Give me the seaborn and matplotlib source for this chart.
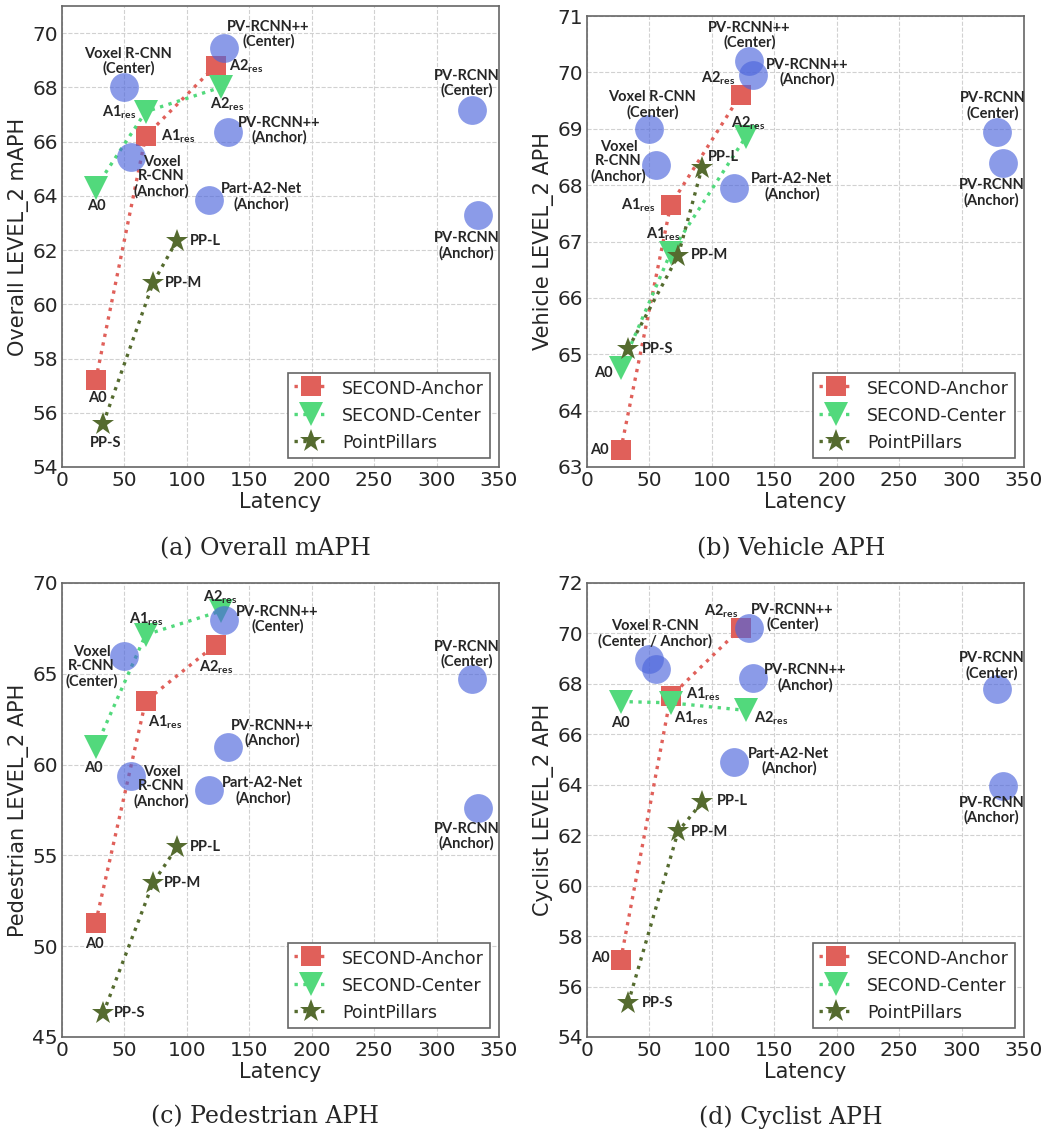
import matplotlib
matplotlib.use("Agg")
import matplotlib.pyplot as plt
import seaborn as sns

# latency of every method
second_anchor_lat = [27, 67, 123]
second_center_lat = [27, 67, 127]
pillars_lat = [33, 73, 92]
other_lat = [50, 55, 130, 133, 118, 328, 333]

# (a) overall LEVEL_2 mAPH
overall_anchor = [57.2, 66.2, 68.8]
overall_center = [64.3, 67.1, 68.0]
overall_pillars = [55.6, 60.8, 62.35]
overall_other = [68.0, 65.45, 69.45, 66.35, 63.85, 67.15, 63.3]

# (b) vehicle LEVEL_2 APH
vehicle_anchor = [63.3, 67.65, 69.6]
vehicle_center = [64.75, 66.8, 68.85]
vehicle_pillars = [65.1, 66.75, 68.3]
vehicle_other = [69.0, 68.35, 70.2, 69.95, 67.95, 68.95, 68.4]

# (c) pedestrian LEVEL_2 APH
ped_anchor = [51.3, 63.5, 66.6]
ped_center = [60.95, 67.15, 68.45]
ped_pillars = [46.3, 53.5, 55.45]
ped_other = [66.0, 59.35, 67.95, 60.95, 58.6, 64.7, 57.6]

# (d) cyclist LEVEL_2 APH
cyc_anchor = [57.05, 67.5, 70.2]
cyc_center = [67.3, 67.25, 66.95]
cyc_pillars = [55.35, 62.15, 63.3]
cyc_other = [69.0, 68.6, 70.2, 68.25, 64.9, 67.8, 63.95]

second_labels = ["A0", r"A1$_{\mathregular{res}}$", r"A2$_{\mathregular{res}}$"]
pillars_labels = ["PP-S", "PP-M", "PP-L"]

ylabels = ["Overall LEVEL_2 mAPH", "Vehicle LEVEL_2 APH",
           "Pedestrian LEVEL_2 APH", "Cyclist LEVEL_2 APH"]
captions = ["(a) Overall mAPH", "(b) Vehicle APH",
            "(c) Pedestrian APH", "(d) Cyclist APH"]
yticks = [range(54, 71, 2), range(63, 72, 1), range(45, 71, 5), range(54, 73, 2)]
ylims = [(54, 71), (63, 71), (45, 70), (54, 72)]

# label placement per panel: (dx, dy, ha) in pixels
anchor_pos = [
    [(2, -18, "center"), (15, 0, "left"), (13, 0, "left")],
    [(-12, 0, "right"), (-15, 0, "right"), (-5, 17, "right")],
    [(-1, -21, "center"), (19, -21, "center"), (1, -22, "center")],
    [(-11, 2, "right"), (15, 2, "left"), (-2, 17, "right")],
]
center_pos = [
    [(1, -18, "center"), (-9, 0, "right"), (7, -17, "center")],
    [(-8, -5, "right"), (-8, 19, "center"), (3, 14, "center")],
    [(-2, -21, "center"), (0, 16, "center"), (0, 14, "center")],
    [(0, -21, "center"), (3, -15, "left"), (8, -8, "left")],
]
pillars_pos = [
    [(2, -19, "center"), (12, 0, "left"), (13, 0, "left")],
    [(14, 0, "left"), (13, 1, "left"), (6, 11, "left")],
    [(11, 0, "left"), (11, 0, "left"), (13, 0, "left")],
    [(14, 0, "left"), (13, -1, "left"), (15, 1, "left")],
]
other_text = [
    ["Voxel R-CNN\n(Center)", "Voxel\nR-CNN\n(Anchor)", "PV-RCNN++\n(Center)",
     "PV-RCNN++\n(Anchor)", "Part-A2-Net\n(Anchor)", "PV-RCNN\n(Center)", "PV-RCNN\n(Anchor)"],
    ["Voxel R-CNN\n(Center)", "Voxel\nR-CNN\n(Anchor)", "PV-RCNN++\n(Center)",
     "PV-RCNN++\n(Anchor)", "Part-A2-Net\n(Anchor)", "PV-RCNN\n(Center)", "PV-RCNN\n(Anchor)"],
    ["Voxel\nR-CNN\n(Center)", "Voxel\nR-CNN\n(Anchor)", "PV-RCNN++\n(Center)",
     "PV-RCNN++\n(Anchor)", "Part-A2-Net\n(Anchor)", "PV-RCNN\n(Center)", "PV-RCNN\n(Anchor)"],
    ["Voxel R-CNN\n(Center / Anchor)", None, "PV-RCNN++\n(Center)",
     "PV-RCNN++\n(Anchor)", "Part-A2-Net\n(Anchor)", "PV-RCNN\n(Center)", "PV-RCNN\n(Anchor)"],
]
other_pos = [
    [(4, 26, "center"), (31, -20, "center"), (44, 14, "center"), (51, 2, "center"),
     (52, 3, "center"), (-5, 27, "center"), (-11, -31, "center")],
    [(3, 24, "center"), (-37, 4, "center"), (0, 26, "center"), (13, 3, "left"),
     (17, 1, "left"), (-4, 26, "center"), (-11, -30, "center")],
    [(-33, -11, "center"), (31, -10, "center"), (12, 1, "left"), (44, 14, "center"),
     (13, -1, "left"), (-5, 25, "center"), (-11, -28, "center")],
    [(6, 25, "center"), None, (2, 11, "left"), (11, 0, "left"),
     (14, 1, "left"), (-5, 23, "center"), (-11, -24, "center")],
]

anchor_vals = [overall_anchor, vehicle_anchor, ped_anchor, cyc_anchor]
center_vals = [overall_center, vehicle_center, ped_center, cyc_center]
pillars_vals = [overall_pillars, vehicle_pillars, ped_pillars, cyc_pillars]
other_vals = [overall_other, vehicle_other, ped_other, cyc_other]

RED = "#e0605a"
GREEN = "#52d97c"
OLIVE = "#556b2f"
BLUE = "#4d66dc"

sns.set_style("whitegrid", {"grid.linestyle": "--", "grid.color": "0.82",
                            "axes.edgecolor": "0.4"})
plt.rcParams["font.family"] = ["DejaVu Sans"]

fig = plt.figure(figsize=(10.49, 11.36), dpi=100)
W, H = 1049, 1136
boxes = [(62, 6, 499, 467), (587, 16, 1024, 467),
         (62, 583, 499, 1037), (587, 583, 1024, 1037)]
cap_xy = [(265, 549), (791, 549), (265, 1117), (791, 1117)]

ann_font = dict(family=["Lato", "DejaVu Sans"], fontweight="bold", fontsize=10.5,
                linespacing=1.05, multialignment="center", va="center", zorder=10)


def label(ax, x, y, text, spec):
    dx, dy, ha = spec
    ax.annotate(text, (x, y), xytext=(dx, dy), textcoords="offset pixels",
                ha=ha, **ann_font)


for i in range(4):
    l, t, r, b = boxes[i]
    ax = fig.add_axes([l / W, 1 - b / H, (r - l) / W, (b - t) / H])

    sns.lineplot(x=second_anchor_lat, y=anchor_vals[i], ax=ax, sort=False,
                 color=RED, linestyle=":", linewidth=2.4, marker="s",
                 markersize=15, markeredgewidth=0, label="SECOND-Anchor")
    sns.lineplot(x=second_center_lat, y=center_vals[i], ax=ax, sort=False,
                 color=GREEN, linestyle=":", linewidth=2.4, marker="v",
                 markersize=17, markeredgewidth=0, label="SECOND-Center")
    sns.lineplot(x=pillars_lat, y=pillars_vals[i], ax=ax, sort=False,
                 color=OLIVE, linestyle=":", linewidth=2.4, marker="*",
                 markersize=17, markeredgewidth=0, label="PointPillars")
    sns.scatterplot(x=other_lat, y=other_vals[i], ax=ax, color=BLUE, s=430,
                    alpha=0.65, linewidth=0, zorder=5)

    for j in range(3):
        label(ax, second_anchor_lat[j], anchor_vals[i][j], second_labels[j], anchor_pos[i][j])
        label(ax, second_center_lat[j], center_vals[i][j], second_labels[j], center_pos[i][j])
        label(ax, pillars_lat[j], pillars_vals[i][j], pillars_labels[j], pillars_pos[i][j])
    for j in range(7):
        if other_text[i][j] is not None:
            label(ax, other_lat[j], other_vals[i][j], other_text[i][j], other_pos[i][j])

    ax.set_xlim(0, 350)
    ax.set_ylim(*ylims[i])
    ax.set_xticks(range(0, 351, 50))
    ax.set_yticks(list(yticks[i]))
    ax.tick_params(labelsize=14.5, length=0, pad=3)
    ax.set_xlabel("Latency", fontsize=15, labelpad=1)
    ax.set_ylabel(ylabels[i], fontsize=15, labelpad=2)
    for s in ax.spines.values():
        s.set_linewidth(1.2)

    leg = ax.legend(loc="lower right", fontsize=12.5, fancybox=False, framealpha=1,
                    edgecolor="0.4", handlelength=2.0, handleheight=1.3,
                    labelspacing=0.45, borderpad=0.35, borderaxespad=0.5)
    leg.get_frame().set_linewidth(1.2)

    fig.text(cap_xy[i][0] / W, 1 - cap_xy[i][1] / H, captions[i],
             family=["DejaVu Serif"], fontsize=17, ha="center", va="center")

fig.savefig("out.png", dpi=100)
